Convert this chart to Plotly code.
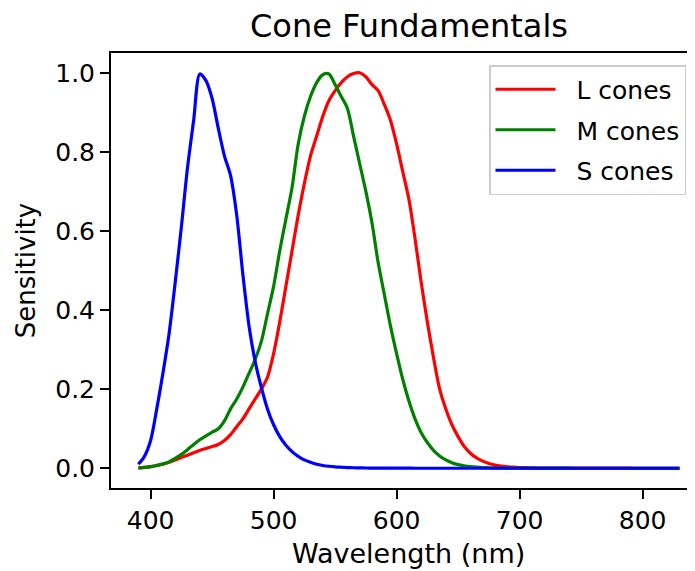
import plotly.graph_objects as go

# Wavelength grid (nm)
wavelength = list(range(390, 835, 5))

# L cones
l_cones = [0.001, 0.002, 0.004, 0.007, 0.010, 0.015, 0.021, 0.027, 0.033, 0.039,
           0.045, 0.050, 0.055, 0.060, 0.070, 0.085, 0.105, 0.125, 0.150, 0.175,
           0.200, 0.230, 0.290, 0.370, 0.460, 0.550, 0.640, 0.720, 0.790, 0.840,
           0.890, 0.930, 0.955, 0.975, 0.990, 0.998, 1.000, 0.990, 0.970, 0.955,
           0.920, 0.880, 0.820, 0.750, 0.680, 0.580, 0.470, 0.370, 0.280, 0.200,
           0.150, 0.110, 0.080, 0.055, 0.038, 0.026, 0.018, 0.012, 0.008, 0.0055,
           0.0038, 0.0026, 0.0018, 0.0013, 0.0009, 0.0006, 0.0004, 0.0003, 0.0002, 0.00015,
           0.0001, 0.0001, 0.00007, 0.00005, 0.00004, 0.00003, 0.00002, 0.00002, 0.00001, 0.00001,
           0.00001, 0.0, 0.0, 0.0, 0.0, 0.0, 0.0, 0.0, 0.0]

# M cones
m_cones = [0.000, 0.002, 0.004, 0.007, 0.011, 0.016, 0.025, 0.035, 0.047, 0.060,
           0.072, 0.082, 0.091, 0.100, 0.120, 0.150, 0.175, 0.205, 0.240, 0.275,
           0.320, 0.390, 0.460, 0.550, 0.630, 0.710, 0.820, 0.890, 0.940, 0.975,
           0.995, 0.997, 0.970, 0.940, 0.910, 0.840, 0.770, 0.700, 0.620, 0.520,
           0.440, 0.360, 0.290, 0.225, 0.170, 0.125, 0.090, 0.065, 0.045, 0.031,
           0.021, 0.014, 0.009, 0.006, 0.004, 0.0027, 0.0017, 0.0012, 0.0008, 0.0006,
           0.0004, 0.0003, 0.0002, 0.00015, 0.0001, 0.00007, 0.00005, 0.00003, 0.00002, 0.00001,
           0.00001, 0.0, 0.0, 0.0, 0.0, 0.0, 0.0, 0.0, 0.0, 0.0,
           0.0, 0.0, 0.0, 0.0, 0.0, 0.0, 0.0, 0.0, 0.0]

# S cones
s_cones = [0.010, 0.030, 0.070, 0.150, 0.240, 0.340, 0.470, 0.610, 0.760, 0.880,
           0.997, 0.980, 0.935, 0.860, 0.790, 0.740, 0.640, 0.490, 0.360, 0.270,
           0.205, 0.150, 0.110, 0.080, 0.058, 0.042, 0.030, 0.021, 0.015, 0.010,
           0.007, 0.005, 0.0035, 0.0025, 0.0017, 0.0012, 0.0008, 0.0006, 0.0004, 0.0003,
           0.0002, 0.00015, 0.0001, 0.00007, 0.00005, 0.0, 0.0, 0.0, 0.0, 0.0,
           0.0, 0.0, 0.0, 0.0, 0.0, 0.0, 0.0, 0.0, 0.0, 0.0,
           0.0, 0.0, 0.0, 0.0, 0.0, 0.0, 0.0, 0.0, 0.0, 0.0,
           0.0, 0.0, 0.0, 0.0, 0.0, 0.0, 0.0, 0.0, 0.0, 0.0,
           0.0, 0.0, 0.0, 0.0, 0.0, 0.0, 0.0, 0.0, 0.0]

series = [("L cones", l_cones, "#ff0000"),
          ("M cones", m_cones, "#008000"),
          ("S cones", s_cones, "#0000ff")]

FONT = "DejaVu Sans"
NB = "\u00a0\u00a0"

fig = go.Figure()
for name, vals, color in series:
    fig.add_trace(go.Scatter(x=wavelength, y=vals, mode="lines", name=NB + name,
                             legendgroup=name,
                             line=dict(color=color, width=3.2, shape="spline", smoothing=0.8)))

# The page body adds an 8px offset, so the figure is sized to fill the rest of the window
fig.update_layout(
    width=687, height=563,
    margin=dict(l=103, r=0, t=45, b=83, autoexpand=False),
    paper_bgcolor="white", plot_bgcolor="white",
    font=dict(family=FONT, size=25, color="#000000"),
    title=dict(text="Cone Fundamentals", x=(409 - 111) / 584, xref="paper", xanchor="center",
               y=1 - 18 / 563, yref="container", yanchor="middle",
               font=dict(family=FONT, size=32, color="#000000")),
    showlegend=True,
    legend=dict(x=(489 - 111) / 584, xanchor="left", y=(488 - 65) / 435, yanchor="top",
                bgcolor="rgba(255,255,255,0.8)", bordercolor="#cccccc", borderwidth=1.5,
                font=dict(family=FONT, size=25, color="#000000"), itemwidth=60,
                tracegroupgap=5),
    annotations=[dict(text="Wavelength (nm)", xref="paper", yref="paper",
                      x=(408 - 111) / 584, y=(488 - 553) / 435,
                      xanchor="center", yanchor="middle", showarrow=False,
                      font=dict(family=FONT, size=27, color="#000000"))],
)

fig.update_xaxes(range=[367.8, 842.6], tickvals=[400, 500, 600, 700, 800],
                 automargin=False,
                 showgrid=False, zeroline=False, showline=True, linecolor="black", linewidth=2,
                 mirror=True, ticks="outside", ticklen=9, tickwidth=2, tickcolor="black")
fig.update_yaxes(range=[-0.05, 1.05], tickvals=[0, 0.2, 0.4, 0.6, 0.8, 1.0],
                 tickformat=".1f", automargin=False,
                 showgrid=False, zeroline=False, showline=True, linecolor="black", linewidth=2,
                 mirror=False, ticks="outside", ticklen=9, tickwidth=2, tickcolor="black",
                 title=dict(text="Sensitivity", font=dict(family=FONT, size=26), standoff=12))

fig.write_html("out.html")
